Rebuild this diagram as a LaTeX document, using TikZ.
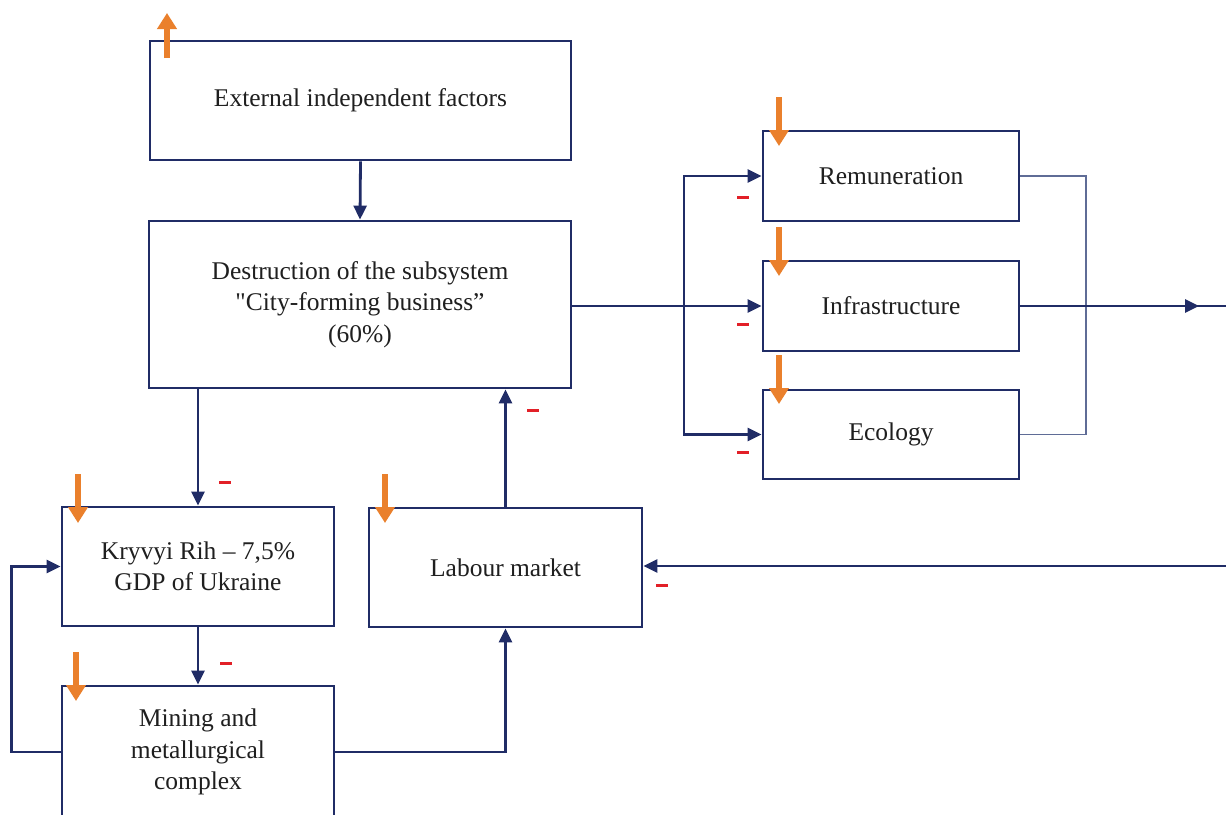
\documentclass[tikz,border=0pt]{standalone}
\usepackage{fontspec}
\setmainfont{Liberation Serif}[Ligatures=TeXOff]
\usetikzlibrary{arrows.meta}
\definecolor{navy}{RGB}{32,44,102}
\definecolor{thinnavy}{RGB}{95,108,150}
\definecolor{orng}{RGB}{234,128,44}
\definecolor{minred}{RGB}{226,32,40}
\begin{document}
\begin{tikzpicture}[x=1pt,y=-1pt,
  box/.style={draw=navy,line width=2.8pt,rectangle,align=center,inner sep=0pt,
    font=\fontsize{25.5}{31.5}\selectfont,text=black!88},
  arr/.style={draw=navy,line width=2.8pt,-{Triangle[length=14pt,width=13pt]}},
  ln/.style={draw=navy,line width=2.8pt},
  thin/.style={draw=thinnavy,line width=1.6pt},
  oarr/.style={draw=orng,line width=6.5pt,-{Triangle[length=16pt,width=19pt]}},
  minus/.style={draw=minred,line width=3pt}]
\useasboundingbox (0,0) rectangle (1226,814);
\fill[white] (0,0) rectangle (1226,814);
% boxes
\node[box,minimum width=421pt,minimum height=119pt] (ext) at (360.5,100.5) {External independent factors};
\node[box,minimum width=422pt,minimum height=167pt] (des) at (360,304.5) {Destruction of the subsystem\\"City-forming business”\\(60\%)};
\node[box,minimum width=256pt,minimum height=90pt] (rem) at (891,176) {Remuneration};
\node[box,minimum width=256pt,minimum height=90pt] (inf) at (891,306) {Infrastructure};
\node[box,minimum width=256pt,minimum height=89pt] (eco) at (891,434.5) {Ecology};
\node[box,minimum width=272pt,minimum height=119pt] (kry) at (198,566.5) {Kryvyi Rih – 7,5\%\\GDP of Ukraine};
\node[box,minimum width=273pt,minimum height=119pt] (lab) at (505.5,567.5) {Labour market};
\node[box,minimum width=272pt,minimum height=132pt] (min) at (198,752) {Mining and\\metallurgical\\complex};
% free ends
\coordinate (outR) at (1226,306);
\coordinate (outT) at (1199,306);
\coordinate (inL) at (1226,566);
\coordinate (bus) at (684,306);
% connectors
\draw[arr] (ext.south) -- (des.north);
\draw[arr] (des.east |- inf.west) -- (inf.west);
\draw[arr] (bus) |- (rem.west);
\draw[arr] (bus) |- (eco.west);
\draw[thin] (rem.east) -| (1086,300) |- (eco.east);
\draw[ln] (inf.east) -- (outR);
\draw[arr] (inf.east) -- (outT);
\draw[arr] (inL) -- (lab.east |- inL);
\draw[arr] (kry.north |- des.south) -- (kry.north);
\draw[arr] (lab.north) -- (lab.north |- des.south);
\draw[arr] (kry.south) -- (min.north);
\draw[arr] (min.west) -- ++(-49,0) |- (kry.west);
\draw[arr] (min.east) -| (lab.south);
% orange arrows
\draw[oarr] (167,58) -- (167,13);
\draw[oarr] (779,97) -- (779,146);
\draw[oarr] (779,227) -- (779,276);
\draw[oarr] (779,355) -- (779,404);
\draw[oarr] (78,474) -- (78,523);
\draw[oarr] (385,474) -- (385,523);
\draw[oarr] (76,652) -- (76,701);
% minus signs
\draw[minus] (219,482) -- (231,482);
\draw[minus] (220,663) -- (232,663);
\draw[minus] (527,410) -- (539,410);
\draw[minus] (656,585) -- (668,585);
\draw[minus] (737,197) -- (749,197);
\draw[minus] (737,324) -- (749,324);
\draw[minus] (737,452) -- (749,452);
\end{tikzpicture}
\end{document}
